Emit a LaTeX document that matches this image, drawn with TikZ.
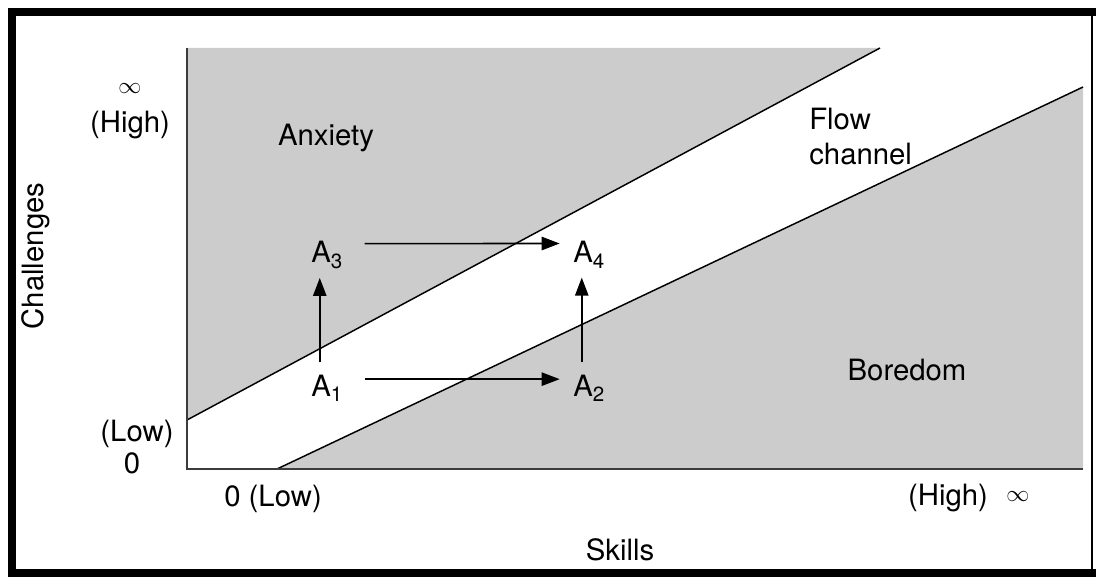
\documentclass[tikz,border=0pt]{standalone}
\usepackage{fontspec}
\setmainfont{TeX Gyre Heros}
\usetikzlibrary{arrows.meta}
\definecolor{zone}{RGB}{204,204,204}
\definecolor{achse}{RGB}{60,60,60}

\begin{document}
\begin{tikzpicture}[x=0.75pt, y=-0.75pt, font=\fontsize{22}{26}\selectfont,
    lbl/.style={inner sep=0pt},
    inf/.style={inner sep=0pt, font=\fontsize{16}{18}\selectfont},
    move/.style={line width=1.2pt, -{Triangle[length=13.5pt,width=10pt]}}]

    \useasboundingbox (0,0) rectangle (1096,577);

    % Zonen: Angst oben, Langeweile unten
    \fill[zone] (187,48) -- (880,48) -- (187,420) -- cycle;
    \fill[zone] (277,469) -- (1083,87) -- (1083,469) -- cycle;
    \draw[line width=1.1pt] (187,420) -- (880,48);
    \draw[line width=1.1pt] (277,469) -- (1083,87);

    % Achsen
    \draw[achse, line width=1.6pt] (187,48) -- (187,469) -- (1083,469);

    % Rahmen
    \draw[line width=6pt] (1096,12) -- (12,12) -- (12,573) -- (1096,573);
    \draw[line width=1.5pt] (1092,12) -- (1092,573);

    \node[inf] (ytop) at (130,89) {$\infty$};
    \node[lbl] (yhigh) at (130,125) {(High)};
    \node[lbl] (ylow) at (137,434) {(Low)};
    \node[lbl] (yzero) at (132,463) {0};
    \node[lbl] (xlow) at (273,499) {0 (Low)};
    \node[lbl] (xhigh) at (948,498) {(High)};
    \node[inf] (xinf) at (1018,497) {$\infty$};
    \node[lbl] (skills) at (620,550) {Skills};
    \node[lbl, rotate=90] (chall) at (36,256) {Challenges};

    \node[lbl, anchor=base] (anx) at (326,146) {Anxiety};
    \node[lbl, anchor=base] (bor) at (907,380) {Boredom};
    \node[lbl, anchor=north west, align=left] (flow) at (809,108) {Flow\\channel};

    \node[lbl, anchor=base west] (a1) at (311,396) {A\textsubscript{1}};
    \node[lbl, anchor=base west] (a2) at (573,396) {A\textsubscript{2}};
    \node[lbl, anchor=base west] (a3) at (311,263) {A\textsubscript{3}};
    \node[lbl, anchor=base west] (a4) at (573,263) {A\textsubscript{4}};

    \draw[move, shorten <=16pt, shorten >=10pt] ([yshift=6.5pt]a1.east) -- ([yshift=6.5pt]a2.west);
    \draw[move, shorten <=16pt, shorten >=10pt] ([yshift=8.5pt]a3.east) -- ([yshift=8.5pt]a4.west);
    \draw[move, shorten <=9pt, shorten >=7pt] ([xshift=-5.5pt]a1.north) -- ([xshift=-5.5pt]a3.south);
    \draw[move, shorten <=9pt, shorten >=7pt] ([xshift=-5.5pt]a2.north) -- ([xshift=-5.5pt]a4.south);

\end{tikzpicture}
\end{document}
